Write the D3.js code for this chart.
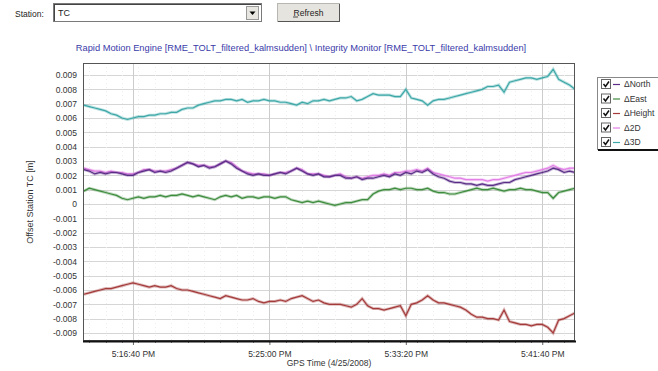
<!DOCTYPE html>
<html>
<head>
<meta charset="utf-8">
<script src="https://cdn.jsdelivr.net/npm/d3@7"></script>
<style>
  html, body { margin: 0; padding: 0; background: #fff; }
  svg { display: block; font-family: "Liberation Sans", Arial, sans-serif; }
</style>
</head>
<body>
<svg id="chart" width="658" height="371"></svg>
<script>
// Sample times: one epoch every 20 s from 5:13:40 PM to 5:43:40 PM (4/25/2008)
const startTime = new Date(2008, 3, 25, 17, 13, 40);
const stepSeconds = 20;

// Offsets of station TC [m]
const north = [
  0.0024, 0.0023, 0.0021, 0.0022, 0.0021, 0.0022, 0.0022, 0.0021, 0.0020, 0.0020,
  0.0022, 0.0023, 0.0024, 0.0022, 0.0023, 0.0022, 0.0023, 0.0025, 0.0027, 0.0029,
  0.0028, 0.0026, 0.0027, 0.0025, 0.0026, 0.0028, 0.0030, 0.0028, 0.0025, 0.0023,
  0.0021, 0.0020, 0.0021, 0.0020, 0.0020, 0.0021, 0.0022, 0.0021, 0.0023, 0.0025,
  0.0023, 0.0021, 0.0020, 0.0021, 0.0019, 0.0019, 0.0020, 0.0020, 0.0018, 0.0018,
  0.0019, 0.0017, 0.0018, 0.0018, 0.0019, 0.0020, 0.0019, 0.0021, 0.0020, 0.0022,
  0.0021, 0.0023, 0.0022, 0.0024, 0.0021, 0.0019, 0.0018, 0.0016, 0.0015, 0.0015,
  0.0014, 0.0014, 0.0013, 0.0014, 0.0013, 0.0013, 0.0014, 0.0015, 0.0015, 0.0017,
  0.0018, 0.0019, 0.0020, 0.0021, 0.0022, 0.0023, 0.0025, 0.0024, 0.0022, 0.0023,
  0.0022
];
const east = [
  0.0009, 0.0011, 0.0010, 0.0009, 0.0008, 0.0007, 0.0006, 0.0004, 0.0003, 0.0004,
  0.0005, 0.0004, 0.0005, 0.0005, 0.0006, 0.0005, 0.0006, 0.0006, 0.0007, 0.0006,
  0.0005, 0.0006, 0.0005, 0.0004, 0.0003, 0.0005, 0.0006, 0.0005, 0.0006, 0.0004,
  0.0005, 0.0005, 0.0004, 0.0005, 0.0005, 0.0004, 0.0005, 0.0005, 0.0003, 0.0002,
  0.0001, 0.0002, 0.0001, 0.0002, 0.0001, 0.0000, -0.0001, 0.0000, 0.0001, 0.0001,
  0.0002, 0.0003, 0.0003, 0.0007, 0.0009, 0.0010, 0.0010, 0.0011, 0.0010, 0.0011,
  0.0011, 0.0010, 0.0010, 0.0011, 0.0009, 0.0008, 0.0008, 0.0007, 0.0007, 0.0008,
  0.0009, 0.0010, 0.0011, 0.0010, 0.0010, 0.0011, 0.0010, 0.0009, 0.0010, 0.0010,
  0.0011, 0.0010, 0.0010, 0.0009, 0.0008, 0.0008, 0.0004, 0.0008, 0.0009, 0.0010,
  0.0011
];
const height = [
  -0.0063, -0.0062, -0.0061, -0.0060, -0.0059, -0.0059, -0.0058, -0.0057, -0.0056, -0.0055,
  -0.0056, -0.0057, -0.0058, -0.0057, -0.0058, -0.0058, -0.0057, -0.0059, -0.0060, -0.0060,
  -0.0061, -0.0062, -0.0063, -0.0064, -0.0065, -0.0066, -0.0064, -0.0065, -0.0066, -0.0067,
  -0.0067, -0.0066, -0.0068, -0.0069, -0.0068, -0.0068, -0.0067, -0.0068, -0.0066, -0.0065,
  -0.0064, -0.0066, -0.0068, -0.0067, -0.0069, -0.0070, -0.0070, -0.0070, -0.0071, -0.0072,
  -0.0070, -0.0066, -0.0071, -0.0073, -0.0073, -0.0074, -0.0073, -0.0072, -0.0071, -0.0078,
  -0.0070, -0.0069, -0.0067, -0.0064, -0.0067, -0.0069, -0.0069, -0.0070, -0.0071, -0.0072,
  -0.0074, -0.0077, -0.0079, -0.0079, -0.0080, -0.0080, -0.0081, -0.0074, -0.0082, -0.0083,
  -0.0084, -0.0084, -0.0085, -0.0084, -0.0084, -0.0086, -0.0090, -0.0081, -0.0080, -0.0078,
  -0.0076
];
const horiz2D = [
  0.0025, 0.0024, 0.0023, 0.0023, 0.0022, 0.0023, 0.0022, 0.0022, 0.0021, 0.0021,
  0.0022, 0.0024, 0.0024, 0.0023, 0.0023, 0.0023, 0.0024, 0.0025, 0.0027, 0.0029,
  0.0028, 0.0027, 0.0027, 0.0026, 0.0026, 0.0028, 0.0030, 0.0029, 0.0026, 0.0023,
  0.0022, 0.0021, 0.0021, 0.0021, 0.0020, 0.0021, 0.0022, 0.0022, 0.0023, 0.0025,
  0.0024, 0.0021, 0.0021, 0.0021, 0.0020, 0.0019, 0.0020, 0.0021, 0.0019, 0.0018,
  0.0019, 0.0018, 0.0019, 0.0020, 0.0020, 0.0021, 0.0020, 0.0022, 0.0022, 0.0023,
  0.0023, 0.0024, 0.0023, 0.0025, 0.0022, 0.0021, 0.0020, 0.0019, 0.0018, 0.0018,
  0.0017, 0.0017, 0.0017, 0.0017, 0.0016, 0.0017, 0.0017, 0.0018, 0.0019, 0.0020,
  0.0021, 0.0022, 0.0022, 0.0023, 0.0024, 0.0025, 0.0027, 0.0025, 0.0024, 0.0025,
  0.0025
];
const spatial3D = [
  0.0069, 0.0068, 0.0067, 0.0066, 0.0065, 0.0063, 0.0062, 0.0060, 0.0059, 0.0060,
  0.0061, 0.0061, 0.0062, 0.0062, 0.0063, 0.0063, 0.0064, 0.0064, 0.0066, 0.0067,
  0.0067, 0.0069, 0.0070, 0.0071, 0.0072, 0.0072, 0.0073, 0.0073, 0.0072, 0.0073,
  0.0071, 0.0072, 0.0072, 0.0073, 0.0072, 0.0072, 0.0071, 0.0071, 0.0070, 0.0069,
  0.0071, 0.0070, 0.0072, 0.0072, 0.0073, 0.0072, 0.0073, 0.0074, 0.0074, 0.0075,
  0.0072, 0.0073, 0.0075, 0.0077, 0.0076, 0.0076, 0.0076, 0.0075, 0.0075, 0.0080,
  0.0074, 0.0073, 0.0072, 0.0069, 0.0072, 0.0073, 0.0073, 0.0074, 0.0075, 0.0076,
  0.0077, 0.0078, 0.0079, 0.0080, 0.0082, 0.0082, 0.0083, 0.0078, 0.0085, 0.0086,
  0.0087, 0.0088, 0.0088, 0.0087, 0.0088, 0.0089, 0.0094, 0.0087, 0.0085, 0.0083,
  0.0080
];

const seriesNames  = ["\u0394North", "\u0394East", "\u0394Height", "\u03942D", "\u03943D"];
const seriesColors = ["#5a2d86", "#3e8c3e", "#a43a3a", "#e27ee6", "#3ea8a8"];
const seriesValues = [north, east, height, horiz2D, spatial3D];
// drawing order: 3D, Height, East, 2D, North on top
const drawOrder = [4, 2, 1, 3, 0];

const yTicks = d3.range(-9, 10).map(k => k / 1000);
const xMajorTicks = [
  new Date(2008, 3, 25, 17, 16, 40),
  new Date(2008, 3, 25, 17, 25, 0),
  new Date(2008, 3, 25, 17, 33, 20),
  new Date(2008, 3, 25, 17, 41, 40)
];
const xDomain = [new Date(2008, 3, 25, 17, 13, 37), new Date(2008, 3, 25, 17, 43, 40)];
const yDomain = [-0.00956, 0.00984];

const times = north.map((_, i) => new Date(startTime.getTime() + i * stepSeconds * 1000));

const svg = d3.select("#chart");
const plot = { left: 83, right: 575, top: 63, bottom: 341 };

const x = d3.scaleTime().domain(xDomain).range([plot.left, plot.right]);
const y = d3.scaleLinear().domain(yDomain).range([plot.bottom, plot.top]);

// ---- toolbar: station selector and refresh button ----
const bar = svg.append("g").attr("font-size", 8.5).attr("fill", "#222");
bar.append("text").attr("x", 15).attr("y", 17).text("Station:");
bar.append("rect").attr("x", 53.5).attr("y", 3.5).attr("width", 208).attr("height", 18)
  .attr("fill", "#fff").attr("stroke", "#7a7a7a");
bar.append("line").attr("x1", 54).attr("x2", 261).attr("y1", 4.5).attr("y2", 4.5).attr("stroke", "#444");
bar.append("line").attr("x1", 54.5).attr("x2", 54.5).attr("y1", 4).attr("y2", 21).attr("stroke", "#444");
bar.append("text").attr("x", 58).attr("y", 16).attr("font-size", 9).text("TC");
bar.append("rect").attr("x", 246.5).attr("y", 6.5).attr("width", 12).attr("height", 13)
  .attr("fill", "#e8e6e0").attr("stroke", "#999");
bar.append("path").attr("d", "M249.5,11.5 L255.5,11.5 L252.5,15 Z").attr("fill", "#000");
bar.append("rect").attr("x", 277.5).attr("y", 3.5).attr("width", 62).attr("height", 18)
  .attr("fill", "#e6e4de").attr("stroke", "#b8b6b0");
bar.append("line").attr("x1", 278).attr("x2", 340).attr("y1", 21.5).attr("y2", 21.5).attr("stroke", "#555");
bar.append("line").attr("x1", 339.5).attr("x2", 339.5).attr("y1", 4).attr("y2", 22).attr("stroke", "#555");
bar.append("text").attr("x", 308.5).attr("y", 15.5).attr("text-anchor", "middle").text("Refresh");
bar.append("line").attr("x1", 293).attr("x2", 298).attr("y1", 17).attr("y2", 17).attr("stroke", "#222").attr("stroke-width", 0.8);

// ---- title ----
svg.append("text")
  .attr("x", 301).attr("y", 51)
  .attr("text-anchor", "middle").attr("font-size", 9.3).attr("fill", "#3a3aa8")
  .text("Rapid Motion Engine [RME_TOLT_filtered_kalmsudden] \\ Integrity Monitor [RME_TOLT_filtered_kalmsudden]");

// ---- grid ----
const grid = svg.append("g");
grid.selectAll("line.h").data(yTicks).join("line")
  .attr("x1", plot.left).attr("x2", plot.right)
  .attr("y1", d => Math.round(y(d)) + 0.5).attr("y2", d => Math.round(y(d)) + 0.5)
  .attr("stroke", "#d6d6d6");
const minorTimes = d3.timeSecond.every(100).range(xDomain[0], xDomain[1]);
grid.selectAll("line.vm").data(minorTimes).join("line")
  .attr("x1", d => Math.round(x(d)) + 0.5).attr("x2", d => Math.round(x(d)) + 0.5)
  .attr("y1", plot.top).attr("y2", plot.bottom)
  .attr("stroke", "#eeeeee").attr("stroke-dasharray", "1,3");
grid.selectAll("line.v").data(xMajorTicks).join("line")
  .attr("x1", d => Math.round(x(d)) + 0.5).attr("x2", d => Math.round(x(d)) + 0.5)
  .attr("y1", plot.top).attr("y2", plot.bottom)
  .attr("stroke", "#cccccc");

// ---- series ----
svg.append("clipPath").attr("id", "plotClip")
  .append("rect").attr("x", plot.left).attr("y", plot.top)
  .attr("width", plot.right - plot.left).attr("height", plot.bottom - plot.top);
const lineGen = d3.line().x((d, i) => x(times[i])).y(d => y(d));
const lines = svg.append("g").attr("clip-path", "url(#plotClip)");
drawOrder.forEach(k => {
  lines.append("path").datum(seriesValues[k])
    .attr("d", lineGen).attr("fill", "none")
    .attr("stroke", seriesColors[k]).attr("stroke-opacity", 0.35).attr("stroke-width", 3);
  lines.append("path").datum(seriesValues[k])
    .attr("d", lineGen).attr("fill", "none")
    .attr("stroke", seriesColors[k]).attr("stroke-width", 1.2);
});

// ---- axes ----
const yAxis = d3.axisLeft(y).tickValues(yTicks).tickSize(0).tickPadding(6)
  .tickFormat(d => Math.abs(d) < 1e-12 ? "0" : d3.format(".3f")(d).replace("\u2212", "-"));
const gy = svg.append("g").attr("transform", `translate(${plot.left},0)`).call(yAxis);
gy.select(".domain").remove();
gy.selectAll("text").attr("font-size", 8.5).attr("fill", "#333")
  .attr("font-family", "Liberation Sans, Arial, sans-serif");

const xAxis = d3.axisBottom(x).tickValues(xMajorTicks).tickSize(4).tickPadding(6)
  .tickFormat(d3.timeFormat("%-I:%M:%S %p"));
const gx = svg.append("g").attr("transform", `translate(0,${plot.bottom})`).call(xAxis);
gx.select(".domain").remove();
gx.selectAll("line").attr("stroke", "#666");
gx.selectAll("text").attr("font-size", 8.5).attr("fill", "#333")
  .attr("font-family", "Liberation Sans, Arial, sans-serif");
svg.append("g").selectAll("line").data(minorTimes).join("line")
  .attr("x1", d => Math.round(x(d)) + 0.5).attr("x2", d => Math.round(x(d)) + 0.5)
  .attr("y1", plot.bottom).attr("y2", plot.bottom + 2).attr("stroke", "#888");

// ---- plot frame ----
svg.append("rect").attr("x", plot.left + 0.5).attr("y", plot.top + 0.5)
  .attr("width", plot.right - plot.left - 1).attr("height", plot.bottom - plot.top - 1)
  .attr("fill", "none").attr("stroke", "#555");
svg.append("line").attr("x1", plot.left).attr("x2", plot.right + 1)
  .attr("y1", plot.bottom + 0.5).attr("y2", plot.bottom + 0.5)
  .attr("stroke", "#111").attr("stroke-width", 2);

// ---- axis titles ----
svg.append("text").attr("x", (plot.left + plot.right) / 2).attr("y", 366)
  .attr("text-anchor", "middle").attr("font-size", 8.5).attr("fill", "#333")
  .text("GPS Time (4/25/2008)");
svg.append("text")
  .attr("transform", `translate(33,${(plot.top + plot.bottom) / 2}) rotate(-90)`)
  .attr("text-anchor", "middle").attr("font-size", 9).attr("fill", "#333")
  .text("Offset Station TC [m]");

// ---- legend ----
const lg = svg.append("g");
lg.append("rect").attr("x", 597.5).attr("y", 77.5).attr("width", 70).attr("height", 72)
  .attr("fill", "#fff").attr("stroke", "#888");
lg.append("line").attr("x1", 598).attr("x2", 660).attr("y1", 150).attr("y2", 150)
  .attr("stroke", "#111").attr("stroke-width", 2);
const rowY = d3.scaleLinear().domain([0, 4]).range([84, 142]);
seriesNames.forEach((name, i) => {
  const cy = rowY(i);
  const row = lg.append("g");
  row.append("rect").attr("x", 601.5).attr("y", cy - 4.5).attr("width", 9).attr("height", 9)
    .attr("fill", "#fff").attr("stroke", "#666");
  row.append("path").attr("d", `M603.5,${cy} L605.5,${cy + 2.5} L609,${cy - 2.5}`)
    .attr("fill", "none").attr("stroke", "#111").attr("stroke-width", 1.5);
  row.append("line").attr("x1", 613).attr("x2", 620).attr("y1", cy + 0.5).attr("y2", cy + 0.5)
    .attr("stroke", seriesColors[i]).attr("stroke-width", 1.2);
  row.append("text").attr("x", 624).attr("y", cy + 3).attr("font-size", 8.5).attr("fill", "#333")
    .text(name);
});
</script>
</body>
</html>
